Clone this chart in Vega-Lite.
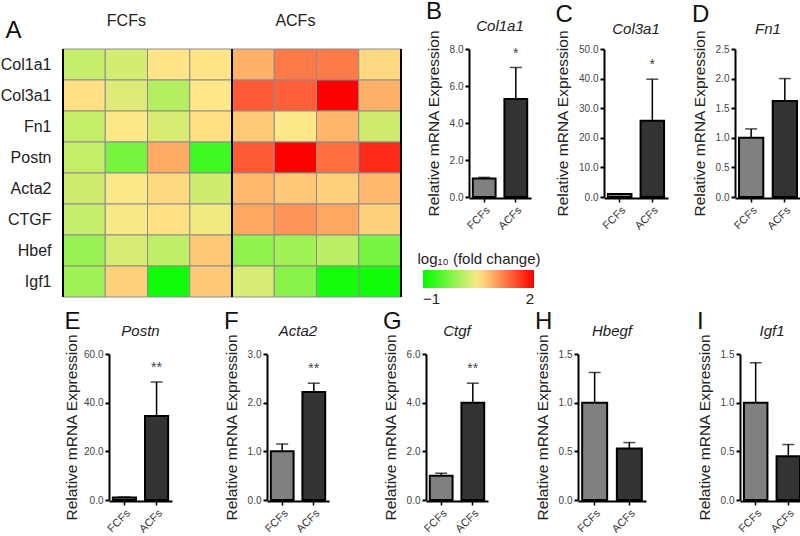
{
  "$schema": "https://vega.github.io/schema/vega-lite/v6.json",
  "padding": 0,
  "background": "white",
  "config": {
    "font": "Liberation Sans",
    "view": {"stroke": null},
    "axis": {"grid": false},
    "axisQuantitative": {"domainColor": "black", "domainWidth": 2, "tickColor": "black", "tickWidth": 2, "tickSize": 4, "labelFontSize": 10, "labelColor": "#444", "labelPadding": 2, "labelOverlap": false, "labelFlush": false, "titleFontSize": 15.5, "titleFontWeight": "normal", "titleColor": "#222", "titlePadding": 8},
    "axisX": {"domainColor": "black", "domainWidth": 2, "tickColor": "black", "tickWidth": 1.5, "tickSize": 4, "labelFontSize": 11, "labelColor": "#333"},
    "title": {"fontSize": 24, "fontWeight": "normal", "anchor": "start", "frame": "bounds", "color": "#111", "offset": -5},
    "header": {"labelFontSize": 15, "labelFontStyle": "italic", "labelColor": "#222", "labelPadding": 12, "title": null}
  },
  "datasets": {
    "bars": [
      {"gene": "Col1a1", "group": "FCFs", "mean": 1.0, "upper": 1.06, "sig": ""},
      {"gene": "Col1a1", "group": "ACFs", "mean": 5.3, "upper": 7.0, "sig": "*"},
      {"gene": "Col3a1", "group": "FCFs", "mean": 1.0, "upper": 1.1, "sig": ""},
      {"gene": "Col3a1", "group": "ACFs", "mean": 25.8, "upper": 39.8, "sig": "*"},
      {"gene": "Fn1", "group": "FCFs", "mean": 1.0, "upper": 1.15, "sig": ""},
      {"gene": "Fn1", "group": "ACFs", "mean": 1.62, "upper": 2.0, "sig": ""},
      {"gene": "Postn", "group": "FCFs", "mean": 1.0, "upper": 1.2, "sig": ""},
      {"gene": "Postn", "group": "ACFs", "mean": 34.5, "upper": 48.5, "sig": "**"},
      {"gene": "Acta2", "group": "FCFs", "mean": 1.0, "upper": 1.15, "sig": ""},
      {"gene": "Acta2", "group": "ACFs", "mean": 2.22, "upper": 2.4, "sig": "**"},
      {"gene": "Ctgf", "group": "FCFs", "mean": 1.0, "upper": 1.1, "sig": ""},
      {"gene": "Ctgf", "group": "ACFs", "mean": 4.0, "upper": 4.8, "sig": "**"},
      {"gene": "Hbegf", "group": "FCFs", "mean": 1.0, "upper": 1.31, "sig": ""},
      {"gene": "Hbegf", "group": "ACFs", "mean": 0.53, "upper": 0.59, "sig": ""},
      {"gene": "Igf1", "group": "FCFs", "mean": 1.0, "upper": 1.41, "sig": ""},
      {"gene": "Igf1", "group": "ACFs", "mean": 0.45, "upper": 0.57, "sig": ""}
    ],
    "heat": [
      {"gene": "Col1a1", "sample": "F1", "value": 0.17},
      {"gene": "Col1a1", "sample": "F2", "value": 0.25},
      {"gene": "Col1a1", "sample": "F3", "value": 0.52},
      {"gene": "Col1a1", "sample": "F4", "value": 0.52},
      {"gene": "Col1a1", "sample": "A1", "value": 0.86},
      {"gene": "Col1a1", "sample": "A2", "value": 1.21},
      {"gene": "Col1a1", "sample": "A3", "value": 1.21},
      {"gene": "Col1a1", "sample": "A4", "value": 0.6},
      {"gene": "Col3a1", "sample": "F1", "value": 0.55},
      {"gene": "Col3a1", "sample": "F2", "value": 0.31},
      {"gene": "Col3a1", "sample": "F3", "value": 0.06},
      {"gene": "Col3a1", "sample": "F4", "value": 0.5},
      {"gene": "Col3a1", "sample": "A1", "value": 1.42},
      {"gene": "Col3a1", "sample": "A2", "value": 1.38},
      {"gene": "Col3a1", "sample": "A3", "value": 2.0},
      {"gene": "Col3a1", "sample": "A4", "value": 0.86},
      {"gene": "Fn1", "sample": "F1", "value": 0.15},
      {"gene": "Fn1", "sample": "F2", "value": 0.48},
      {"gene": "Fn1", "sample": "F3", "value": 0.27},
      {"gene": "Fn1", "sample": "F4", "value": 0.55},
      {"gene": "Fn1", "sample": "A1", "value": 0.7},
      {"gene": "Fn1", "sample": "A2", "value": 0.48},
      {"gene": "Fn1", "sample": "A3", "value": 0.83},
      {"gene": "Fn1", "sample": "A4", "value": 0.22},
      {"gene": "Postn", "sample": "F1", "value": 0.15},
      {"gene": "Postn", "sample": "F2", "value": -0.3},
      {"gene": "Postn", "sample": "F3", "value": 0.9},
      {"gene": "Postn", "sample": "F4", "value": -0.62},
      {"gene": "Postn", "sample": "A1", "value": 1.42},
      {"gene": "Postn", "sample": "A2", "value": 2.0},
      {"gene": "Postn", "sample": "A3", "value": 1.28},
      {"gene": "Postn", "sample": "A4", "value": 1.73},
      {"gene": "Acta2", "sample": "F1", "value": 0.22},
      {"gene": "Acta2", "sample": "F2", "value": 0.48},
      {"gene": "Acta2", "sample": "F3", "value": 0.6},
      {"gene": "Acta2", "sample": "F4", "value": 0.22},
      {"gene": "Acta2", "sample": "A1", "value": 0.81},
      {"gene": "Acta2", "sample": "A2", "value": 0.71},
      {"gene": "Acta2", "sample": "A3", "value": 0.65},
      {"gene": "Acta2", "sample": "A4", "value": 0.81},
      {"gene": "CTGF", "sample": "F1", "value": 0.17},
      {"gene": "CTGF", "sample": "F2", "value": 0.46},
      {"gene": "CTGF", "sample": "F3", "value": 0.55},
      {"gene": "CTGF", "sample": "F4", "value": 0.4},
      {"gene": "CTGF", "sample": "A1", "value": 0.92},
      {"gene": "CTGF", "sample": "A2", "value": 1.04},
      {"gene": "CTGF", "sample": "A3", "value": 0.92},
      {"gene": "CTGF", "sample": "A4", "value": 0.65},
      {"gene": "Hbef", "sample": "F1", "value": -0.1},
      {"gene": "Hbef", "sample": "F2", "value": 0.27},
      {"gene": "Hbef", "sample": "F3", "value": 0.13},
      {"gene": "Hbef", "sample": "F4", "value": 0.71},
      {"gene": "Hbef", "sample": "A1", "value": -0.15},
      {"gene": "Hbef", "sample": "A2", "value": -0.06},
      {"gene": "Hbef", "sample": "A3", "value": 0.1},
      {"gene": "Hbef", "sample": "A4", "value": -0.28},
      {"gene": "Igf1", "sample": "F1", "value": -0.06},
      {"gene": "Igf1", "sample": "F2", "value": 0.65},
      {"gene": "Igf1", "sample": "F3", "value": -0.9},
      {"gene": "Igf1", "sample": "F4", "value": 0.71},
      {"gene": "Igf1", "sample": "A1", "value": 0.27},
      {"gene": "Igf1", "sample": "A2", "value": -0.2},
      {"gene": "Igf1", "sample": "A3", "value": -0.86},
      {"gene": "Igf1", "sample": "A4", "value": -0.9}
    ]
  },
  "spacing": 12,
  "vconcat": [
    {
      "spacing": 24,
      "hconcat": [
        {
          "width": 338,
          "height": 248,
          "layer": [
            {
              "data": {"name": "heat"},
              "mark": {"type": "rect", "stroke": "#8c8c8c", "strokeWidth": 1},
              "encoding": {
                "x": {"field": "sample", "type": "nominal", "sort": ["F1", "F2", "F3", "F4", "A1", "A2", "A3", "A4"], "scale": {"paddingInner": 0, "paddingOuter": 0}, "axis": {"orient": "top", "values": ["F2", "A2"], "bandPosition": 1, "labelExpr": "datum.value === 'F2' ? 'FCFs' : 'ACFs'", "ticks": false, "domain": false, "labelAngle": 0, "labelFontSize": 16, "labelColor": "#222", "labelPadding": 21, "title": null}},
                "y": {"field": "gene", "type": "nominal", "sort": ["Col1a1", "Col3a1", "Fn1", "Postn", "Acta2", "CTGF", "Hbef", "Igf1"], "scale": {"paddingInner": 0, "paddingOuter": 0}, "axis": {"title": "A", "titleAngle": 0, "titleX": -58, "titleY": -12, "titleAlign": "left", "titleBaseline": "alphabetic", "titleFontSize": 24, "titleFontWeight": "normal", "titleColor": "#111", "ticks": false, "domain": false, "labelFontSize": 16, "labelColor": "#222", "labelPadding": 12}},
                "color": {
                  "field": "value", "type": "quantitative",
                  "scale": {"domain": [-1, 0.5, 2], "range": ["#00ff00", "#ffe88a", "#ff0000"], "interpolate": "rgb"},
                  "legend": {"title": "log₁₀ (fold change)", "orient": "none", "legendX": 354, "legendY": 203, "direction": "horizontal", "gradientLength": 111, "gradientThickness": 18, "gradientStrokeWidth": 0, "values": [-1, 2], "labelAlign": "center", "labelFontSize": 15, "labelColor": "#222", "titleFontSize": 15, "titleFontWeight": "normal", "titleColor": "#222", "titlePadding": 3, "titleAnchor": "middle", "labelOffset": 4}
                }
              }
            },
            {
              "data": {"values": [{"sample": "F1"}, {"sample": "A1"}]},
              "mark": {"type": "rule", "color": "black", "strokeWidth": 2},
              "encoding": {"x": {"field": "sample", "type": "nominal", "bandPosition": 0, "sort": ["F1", "F2", "F3", "F4", "A1", "A2", "A3", "A4"], "scale": {"paddingInner": 0, "paddingOuter": 0}, "axis": {"orient": "top", "values": ["F2", "A2"], "bandPosition": 1, "labelExpr": "datum.value === 'F2' ? 'FCFs' : 'ACFs'", "ticks": false, "domain": false, "labelAngle": 0, "labelFontSize": 16, "labelColor": "#222", "labelPadding": 21, "title": null}}}
            },
            {
              "data": {"values": [{"sample": "A4"}]},
              "mark": {"type": "rule", "color": "black", "strokeWidth": 2},
              "encoding": {"x": {"field": "sample", "type": "nominal", "bandPosition": 1, "sort": ["F1", "F2", "F3", "F4", "A1", "A2", "A3", "A4"], "scale": {"paddingInner": 0, "paddingOuter": 0}, "axis": {"orient": "top", "values": ["F2", "A2"], "bandPosition": 1, "labelExpr": "datum.value === 'F2' ? 'FCFs' : 'ACFs'", "ticks": false, "domain": false, "labelAngle": 0, "labelFontSize": 16, "labelColor": "#222", "labelPadding": 21, "title": null}}}
            }
          ]
        },
        {
          "title": {"text": "B"},
          "data": {"name": "bars"},
          "transform": [{"filter": "datum.gene === 'Col1a1'"}],
          "facet": {"column": {"field": "gene", "type": "nominal", "title": null}},
          "spec": {
            "width": 62, "height": 148,
            "encoding": {"x": {"field": "group", "type": "nominal", "sort": ["FCFs", "ACFs"], "title": null, "axis": {"labelAngle": -45}, "scale": {"paddingInner": 0.28, "paddingOuter": 0.12}}},
            "layer": [
              {"mark": {"type": "bar", "stroke": "black", "strokeWidth": 2}, "encoding": {"y": {"field": "mean", "type": "quantitative", "title": "Relative mRNA Expression", "scale": {"domain": [0, 8], "nice": false}, "axis": {"values": [0, 2, 4, 6, 8], "format": ".1f", "labelOverlap": false, "tickCount": 5}}, "fill": {"field": "group", "type": "nominal", "scale": {"domain": ["FCFs", "ACFs"], "range": ["#808080", "#333333"]}, "legend": null}}},
              {"mark": {"type": "rule", "color": "black", "strokeWidth": 1.5}, "encoding": {"y": {"field": "mean", "type": "quantitative"}, "y2": {"field": "upper"}}},
              {"mark": {"type": "tick", "orient": "horizontal", "size": 12, "thickness": 1.5, "color": "black"}, "encoding": {"y": {"field": "upper", "type": "quantitative"}}},
              {"transform": [{"filter": "datum.sig !== ''"}], "mark": {"type": "text", "fontSize": 14, "color": "#444", "dy": -10, "baseline": "alphabetic"}, "encoding": {"y": {"field": "upper", "type": "quantitative"}, "text": {"field": "sig"}}}
            ]
          }
        },
        {
          "title": {"text": "C"},
          "data": {"name": "bars"},
          "transform": [{"filter": "datum.gene === 'Col3a1'"}],
          "facet": {"column": {"field": "gene", "type": "nominal", "title": null}},
          "spec": {
            "width": 64, "height": 148,
            "encoding": {"x": {"field": "group", "type": "nominal", "sort": ["FCFs", "ACFs"], "title": null, "axis": {"labelAngle": -45}, "scale": {"paddingInner": 0.28, "paddingOuter": 0.12}}},
            "layer": [
              {"mark": {"type": "bar", "stroke": "black", "strokeWidth": 2}, "encoding": {"y": {"field": "mean", "type": "quantitative", "title": "Relative mRNA Expression", "scale": {"domain": [0, 50], "nice": false}, "axis": {"values": [0, 10, 20, 30, 40, 50], "format": ".1f", "labelOverlap": false, "tickCount": 6}}, "fill": {"field": "group", "type": "nominal", "scale": {"domain": ["FCFs", "ACFs"], "range": ["#808080", "#333333"]}, "legend": null}}},
              {"mark": {"type": "rule", "color": "black", "strokeWidth": 1.5}, "encoding": {"y": {"field": "mean", "type": "quantitative"}, "y2": {"field": "upper"}}},
              {"mark": {"type": "tick", "orient": "horizontal", "size": 12, "thickness": 1.5, "color": "black"}, "encoding": {"y": {"field": "upper", "type": "quantitative"}}},
              {"transform": [{"filter": "datum.sig !== ''"}], "mark": {"type": "text", "fontSize": 14, "color": "#444", "dy": -10, "baseline": "alphabetic"}, "encoding": {"y": {"field": "upper", "type": "quantitative"}, "text": {"field": "sig"}}}
            ]
          }
        },
        {
          "title": {"text": "D"},
          "data": {"name": "bars"},
          "transform": [{"filter": "datum.gene === 'Fn1'"}],
          "facet": {"column": {"field": "gene", "type": "nominal", "title": null}},
          "spec": {
            "width": 66, "height": 148,
            "encoding": {"x": {"field": "group", "type": "nominal", "sort": ["FCFs", "ACFs"], "title": null, "axis": {"labelAngle": -45}, "scale": {"paddingInner": 0.28, "paddingOuter": 0.12}}},
            "layer": [
              {"mark": {"type": "bar", "stroke": "black", "strokeWidth": 2}, "encoding": {"y": {"field": "mean", "type": "quantitative", "title": "Relative mRNA Expression", "scale": {"domain": [0, 2.5], "nice": false}, "axis": {"values": [0, 0.5, 1, 1.5, 2, 2.5], "format": ".1f", "labelOverlap": false, "tickCount": 6}}, "fill": {"field": "group", "type": "nominal", "scale": {"domain": ["FCFs", "ACFs"], "range": ["#808080", "#333333"]}, "legend": null}}},
              {"mark": {"type": "rule", "color": "black", "strokeWidth": 1.5}, "encoding": {"y": {"field": "mean", "type": "quantitative"}, "y2": {"field": "upper"}}},
              {"mark": {"type": "tick", "orient": "horizontal", "size": 12, "thickness": 1.5, "color": "black"}, "encoding": {"y": {"field": "upper", "type": "quantitative"}}}
            ]
          }
        }
      ]
    },
    {
      "spacing": 0,
      "hconcat": [
        {"width": 1, "height": 10, "data": {"values": [{"k": 1}]}, "mark": {"type": "rect", "opacity": 0}, "encoding": {}},
        {
          "title": {"text": "E", "offset": -10},
          "data": {"name": "bars"},
          "transform": [{"filter": "datum.gene === 'Postn'"}],
          "facet": {"column": {"field": "gene", "type": "nominal", "title": null, "header": {"labelPadding": 15}}},
          "spec": {
            "width": 63, "height": 146,
            "encoding": {"x": {"field": "group", "type": "nominal", "sort": ["FCFs", "ACFs"], "title": null, "axis": {"labelAngle": -45}, "scale": {"paddingInner": 0.28, "paddingOuter": 0.12}}},
            "layer": [
              {"mark": {"type": "bar", "stroke": "black", "strokeWidth": 2}, "encoding": {"y": {"field": "mean", "type": "quantitative", "title": "Relative mRNA Expression", "scale": {"domain": [0, 60], "nice": false}, "axis": {"values": [0, 20, 40, 60], "format": ".1f", "labelOverlap": false, "tickCount": 4, "titlePadding": 4}}, "fill": {"field": "group", "type": "nominal", "scale": {"domain": ["FCFs", "ACFs"], "range": ["#808080", "#333333"]}, "legend": null}}},
              {"mark": {"type": "rule", "color": "black", "strokeWidth": 1.5}, "encoding": {"y": {"field": "mean", "type": "quantitative"}, "y2": {"field": "upper"}}},
              {"mark": {"type": "tick", "orient": "horizontal", "size": 12, "thickness": 1.5, "color": "black"}, "encoding": {"y": {"field": "upper", "type": "quantitative"}}},
              {"transform": [{"filter": "datum.sig !== ''"}], "mark": {"type": "text", "fontSize": 14, "color": "#444", "dy": -10, "baseline": "alphabetic"}, "encoding": {"y": {"field": "upper", "type": "quantitative"}, "text": {"field": "sig"}}}
            ]
          }
        },
        {"width": 52, "height": 10, "data": {"values": [{"k": 1}]}, "mark": {"type": "rect", "opacity": 0}, "encoding": {}},
        {
          "title": {"text": "F", "offset": -10},
          "data": {"name": "bars"},
          "transform": [{"filter": "datum.gene === 'Acta2'"}],
          "facet": {"column": {"field": "gene", "type": "nominal", "title": null, "header": {"labelPadding": 15}}},
          "spec": {
            "width": 62, "height": 146,
            "encoding": {"x": {"field": "group", "type": "nominal", "sort": ["FCFs", "ACFs"], "title": null, "axis": {"labelAngle": -45}, "scale": {"paddingInner": 0.28, "paddingOuter": 0.12}}},
            "layer": [
              {"mark": {"type": "bar", "stroke": "black", "strokeWidth": 2}, "encoding": {"y": {"field": "mean", "type": "quantitative", "title": "Relative mRNA Expression", "scale": {"domain": [0, 3], "nice": false}, "axis": {"values": [0, 1, 2, 3], "format": ".1f", "labelOverlap": false, "tickCount": 4}}, "fill": {"field": "group", "type": "nominal", "scale": {"domain": ["FCFs", "ACFs"], "range": ["#808080", "#333333"]}, "legend": null}}},
              {"mark": {"type": "rule", "color": "black", "strokeWidth": 1.5}, "encoding": {"y": {"field": "mean", "type": "quantitative"}, "y2": {"field": "upper"}}},
              {"mark": {"type": "tick", "orient": "horizontal", "size": 12, "thickness": 1.5, "color": "black"}, "encoding": {"y": {"field": "upper", "type": "quantitative"}}},
              {"transform": [{"filter": "datum.sig !== ''"}], "mark": {"type": "text", "fontSize": 14, "color": "#444", "dy": -10, "baseline": "alphabetic"}, "encoding": {"y": {"field": "upper", "type": "quantitative"}, "text": {"field": "sig"}}}
            ]
          }
        },
        {"width": 54, "height": 10, "data": {"values": [{"k": 1}]}, "mark": {"type": "rect", "opacity": 0}, "encoding": {}},
        {
          "title": {"text": "G", "offset": -10},
          "data": {"name": "bars"},
          "transform": [{"filter": "datum.gene === 'Ctgf'"}],
          "facet": {"column": {"field": "gene", "type": "nominal", "title": null, "header": {"labelPadding": 15}}},
          "spec": {
            "width": 62, "height": 146,
            "encoding": {"x": {"field": "group", "type": "nominal", "sort": ["FCFs", "ACFs"], "title": null, "axis": {"labelAngle": -45}, "scale": {"paddingInner": 0.28, "paddingOuter": 0.12}}},
            "layer": [
              {"mark": {"type": "bar", "stroke": "black", "strokeWidth": 2}, "encoding": {"y": {"field": "mean", "type": "quantitative", "title": "Relative mRNA Expression", "scale": {"domain": [0, 6], "nice": false}, "axis": {"values": [0, 2, 4, 6], "format": ".1f", "labelOverlap": false, "tickCount": 4}}, "fill": {"field": "group", "type": "nominal", "scale": {"domain": ["FCFs", "ACFs"], "range": ["#808080", "#333333"]}, "legend": null}}},
              {"mark": {"type": "rule", "color": "black", "strokeWidth": 1.5}, "encoding": {"y": {"field": "mean", "type": "quantitative"}, "y2": {"field": "upper"}}},
              {"mark": {"type": "tick", "orient": "horizontal", "size": 12, "thickness": 1.5, "color": "black"}, "encoding": {"y": {"field": "upper", "type": "quantitative"}}},
              {"transform": [{"filter": "datum.sig !== ''"}], "mark": {"type": "text", "fontSize": 14, "color": "#444", "dy": -10, "baseline": "alphabetic"}, "encoding": {"y": {"field": "upper", "type": "quantitative"}, "text": {"field": "sig"}}}
            ]
          }
        },
        {"width": 47, "height": 10, "data": {"values": [{"k": 1}]}, "mark": {"type": "rect", "opacity": 0}, "encoding": {}},
        {
          "title": {"text": "H", "offset": -10},
          "data": {"name": "bars"},
          "transform": [{"filter": "datum.gene === 'Hbegf'"}],
          "facet": {"column": {"field": "gene", "type": "nominal", "title": null, "header": {"labelPadding": 15}}},
          "spec": {
            "width": 68, "height": 146,
            "encoding": {"x": {"field": "group", "type": "nominal", "sort": ["FCFs", "ACFs"], "title": null, "axis": {"labelAngle": -45}, "scale": {"paddingInner": 0.28, "paddingOuter": 0.12}}},
            "layer": [
              {"mark": {"type": "bar", "stroke": "black", "strokeWidth": 2}, "encoding": {"y": {"field": "mean", "type": "quantitative", "title": "Relative mRNA Expression", "scale": {"domain": [0, 1.5], "nice": false}, "axis": {"values": [0, 0.5, 1, 1.5], "format": ".1f", "labelOverlap": false, "tickCount": 4}}, "fill": {"field": "group", "type": "nominal", "scale": {"domain": ["FCFs", "ACFs"], "range": ["#808080", "#333333"]}, "legend": null}}},
              {"mark": {"type": "rule", "color": "black", "strokeWidth": 1.5}, "encoding": {"y": {"field": "mean", "type": "quantitative"}, "y2": {"field": "upper"}}},
              {"mark": {"type": "tick", "orient": "horizontal", "size": 12, "thickness": 1.5, "color": "black"}, "encoding": {"y": {"field": "upper", "type": "quantitative"}}}
            ]
          }
        },
        {"width": 51, "height": 10, "data": {"values": [{"k": 1}]}, "mark": {"type": "rect", "opacity": 0}, "encoding": {}},
        {
          "title": {"text": "I", "offset": -10},
          "data": {"name": "bars"},
          "transform": [{"filter": "datum.gene === 'Igf1'"}],
          "facet": {"column": {"field": "gene", "type": "nominal", "title": null, "header": {"labelPadding": 15}}},
          "spec": {
            "width": 64, "height": 146,
            "encoding": {"x": {"field": "group", "type": "nominal", "sort": ["FCFs", "ACFs"], "title": null, "axis": {"labelAngle": -45}, "scale": {"paddingInner": 0.28, "paddingOuter": 0.12}}},
            "layer": [
              {"mark": {"type": "bar", "stroke": "black", "strokeWidth": 2}, "encoding": {"y": {"field": "mean", "type": "quantitative", "title": "Relative mRNA Expression", "scale": {"domain": [0, 1.5], "nice": false}, "axis": {"values": [0, 0.5, 1, 1.5], "format": ".1f", "labelOverlap": false, "tickCount": 4}}, "fill": {"field": "group", "type": "nominal", "scale": {"domain": ["FCFs", "ACFs"], "range": ["#808080", "#333333"]}, "legend": null}}},
              {"mark": {"type": "rule", "color": "black", "strokeWidth": 1.5}, "encoding": {"y": {"field": "mean", "type": "quantitative"}, "y2": {"field": "upper"}}},
              {"mark": {"type": "tick", "orient": "horizontal", "size": 12, "thickness": 1.5, "color": "black"}, "encoding": {"y": {"field": "upper", "type": "quantitative"}}}
            ]
          }
        }
      ]
    }
  ]
}
